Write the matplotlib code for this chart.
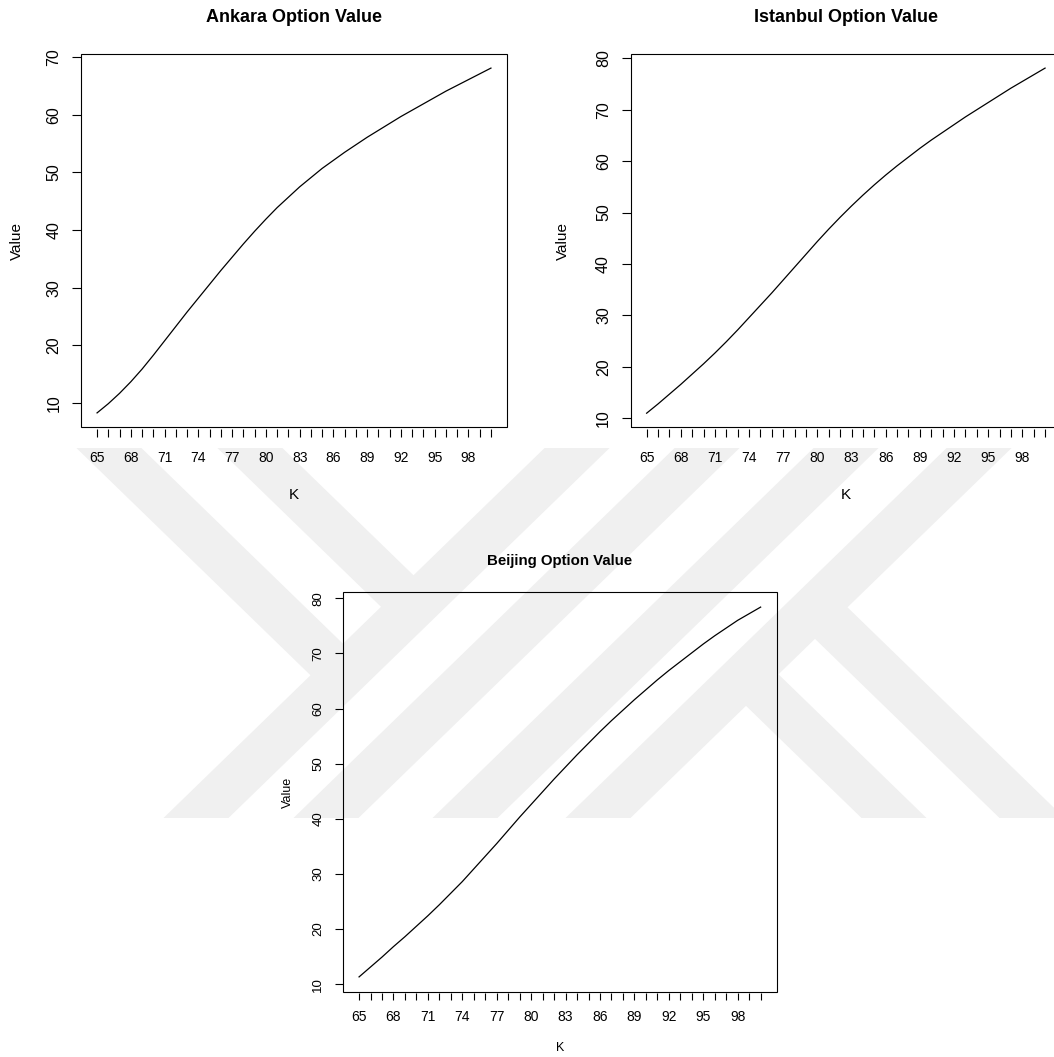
import numpy as np
import matplotlib.pyplot as plt
from matplotlib.patches import Polygon, Rectangle

plt.rcParams['font.family'] = ['Liberation Sans', 'DejaVu Sans']

# strike prices and option values
K = list(range(65, 101))
K_labelled = [65, 68, 71, 74, 77, 80, 83, 86, 89, 92, 95, 98]

ankara = [8.3, 9.9, 11.7, 13.7, 15.9, 18.3, 20.8, 23.3, 25.8, 28.2,
          30.6, 33.0, 35.3, 37.6, 39.8, 41.9, 43.9, 45.7, 47.5, 49.1,
          50.7, 52.1, 53.5, 54.8, 56.1, 57.3, 58.5, 59.7, 60.8, 61.9,
          63.0, 64.1, 65.1, 66.1, 67.1, 68.1]
istanbul = [11.0, 12.8, 14.7, 16.6, 18.6, 20.6, 22.7, 24.9, 27.2, 29.6,
            32.0, 34.4, 36.9, 39.4, 41.9, 44.4, 46.8, 49.1, 51.3, 53.4,
            55.4, 57.3, 59.1, 60.8, 62.5, 64.1, 65.6, 67.1, 68.6, 70.0,
            71.4, 72.8, 74.2, 75.5, 76.8, 78.1]
beijing = [11.3, 13.1, 14.9, 16.8, 18.6, 20.5, 22.4, 24.4, 26.5, 28.6,
           30.9, 33.2, 35.5, 37.9, 40.3, 42.6, 44.9, 47.2, 49.4, 51.6,
           53.7, 55.8, 57.8, 59.7, 61.6, 63.4, 65.2, 66.9, 68.5, 70.1,
           71.7, 73.2, 74.6, 76.0, 77.2, 78.4]

ankara_yticks = [10, 20, 30, 40, 50, 60, 70]
istanbul_yticks = [10, 20, 30, 40, 50, 60, 70, 80]
beijing_yticks = [10, 20, 30, 40, 50, 60, 70, 80]

W, H = 1054, 1057
fig = plt.figure(figsize=(W / 100, H / 100), dpi=100)


def fig_xy(x, y):
    return (x / W, 1 - y / H)


# ---- faint background watermark (pixel geometry) ----
wm_col = '#f0f0f0'
slope = 1.03
bw = 65
y_top, y_bot = 448, 818


def edge(x0, sign, y):
    return x0 + sign * slope * (y - 501)


def stem(x0):
    pts = [(edge(x0, -1, y_top), y_top), (edge(x0, -1, y_top) + bw, y_top),
           (edge(x0, -1, y_bot) + bw, y_bot), (edge(x0, -1, y_bot), y_bot)]
    return pts


def meet(a0, s0):
    # y where arm edge starting at a0 (sign +1) hits centre line of stem s0
    c = s0 + bw / 2
    return 501 + (c - a0) / (2 * slope)


def arm_up(a0, s0):
    y1 = meet(a0, s0)
    y2 = meet(a0 + bw, s0)
    return [(edge(a0, 1, y_top), y_top), (edge(a0, 1, y_top) + bw, y_top),
            (edge(a0 + bw, 1, y2), y2), (edge(a0, 1, y1), y1)]


def arm_down(a0, s0):
    y1 = meet(a0, s0)
    y2 = meet(a0 + bw, s0)
    return [(edge(a0, 1, y1), y1), (edge(a0 + bw, 1, y2), y2),
            (edge(a0 + bw, 1, y_bot), y_bot), (edge(a0, 1, y_bot), y_bot)]


shapes = [stem(490), stem(620), stem(759), stem(892),
          arm_up(131, 490), arm_up(272, 490),
          arm_down(673, 892), arm_down(535, 892)]
for pts in shapes:
    fig.add_artist(Polygon([fig_xy(x, y) for x, y in pts], closed=True,
                           transform=fig.transFigure, facecolor=wm_col,
                           edgecolor='none', zorder=-5))


def panel(box, y, yticks, title, fs_tick, fs_lab, fs_title,
          title_y, xlab_y, ylab_x, tlx, tly, padx, pady, gap):
    left, top, right, bottom = box
    wpx, hpx = right - left, bottom - top
    ax = fig.add_axes([left / W, 1 - bottom / H, wpx / W, hpx / H])
    ax.set_facecolor('none')
    ax.plot(K, y, color='black', lw=0.9)

    xr = max(K) - min(K)
    ax.set_xlim(min(K) - 0.04 * xr, max(K) + 0.04 * xr)
    yr = max(y) - min(y)
    ax.set_ylim(min(y) - 0.04 * yr, max(y) + 0.04 * yr)

    xlabels = [str(k) if k in K_labelled else '' for k in K]
    ax.set_xticks(K, xlabels, fontsize=fs_tick)
    ax.set_yticks(yticks, [str(v) for v in yticks], fontsize=fs_tick,
                  rotation=90, va='center')
    ax.tick_params(axis='x', direction='out', length=tlx, width=0.8,
                   pad=padx, color='black')
    ax.tick_params(axis='y', direction='out', length=tly, width=0.8,
                   pad=pady, color='black')

    for s in ax.spines.values():
        s.set_visible(False)
    ax.spines['bottom'].set_position(('outward', gap))
    ax.add_patch(Rectangle((0, 0), 1, 1, transform=ax.transAxes, fill=False,
                           lw=0.8, edgecolor='black', clip_on=False))

    ax.text(0.5, 1 + (top - title_y) / hpx, title, transform=ax.transAxes,
            ha='center', va='center', fontsize=fs_title, fontweight='bold')
    ax.set_xlabel('K', fontsize=fs_lab, va='center')
    ax.xaxis.set_label_coords(0.5, -(xlab_y - bottom) / hpx)
    ax.set_ylabel('Value', fontsize=fs_lab, va='center')
    ax.yaxis.set_label_coords(-(left - ylab_x) / wpx, 0.5)
    return ax


panel((81.3, 54.3, 506.7, 426.7), ankara, ankara_yticks,
      'Ankara Option Value', 11.5, 11, 13, 18, 495, 17,
      5.8, 6.5, 10, 7.7, 1.5)
panel((630.7, 54.3, 1061, 427), istanbul, istanbul_yticks,
      'Istanbul Option Value', 11.5, 11, 13, 18, 495, 563,
      5.8, 6.5, 10, 7.7, 1.5)
panel((343, 592.3, 776.7, 991.7), beijing, beijing_yticks,
      'Beijing Option Value', 9.5, 9, 10.8, 561.5, 1048, 288,
      5.0, 5.8, 7.2, 7.7, 1.2)

plt.savefig('out.png', dpi=100)
